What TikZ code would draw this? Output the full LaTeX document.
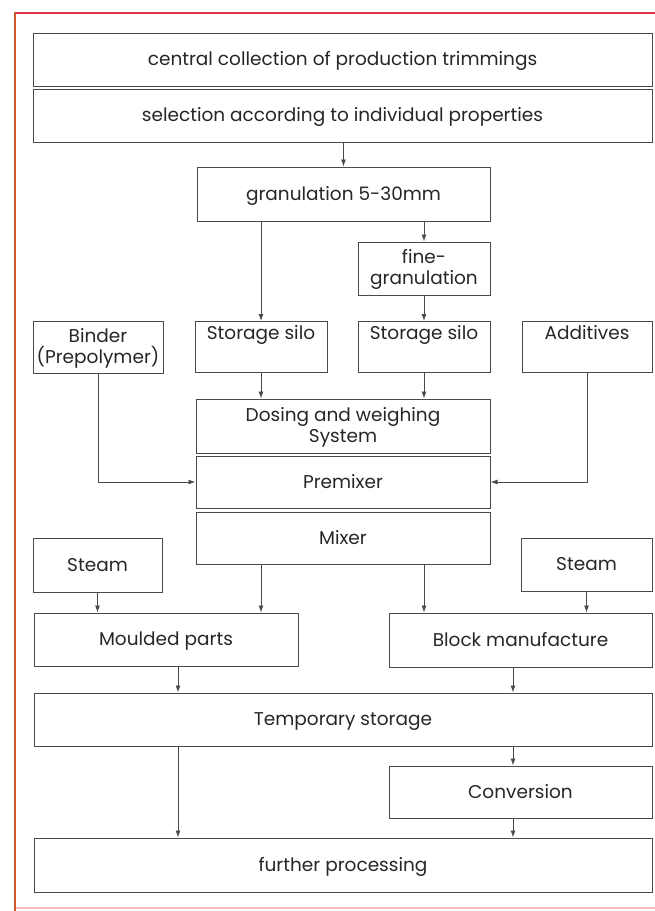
\documentclass[tikz,border=0pt]{standalone}
\usepackage{fontspec}
\setmainfont{Poppins}
\usepackage{xcolor}
\usetikzlibrary{arrows.meta,positioning,calc}
\definecolor{boxline}{HTML}{4A4A4A}
\definecolor{frametop}{HTML}{E2334C}
\definecolor{frameleft}{HTML}{D2572E}
\definecolor{framebot}{HTML}{F5BCC6}
\tikzset{
  box/.style={rectangle, draw=boxline, line width=1pt, align=center, text=black!85,
              font=\fontsize{18.5}{21}\selectfont, inner sep=2pt, text height=13pt, text depth=1pt},
  twoline/.style={box, text height=34pt, text depth=1.5pt},
  topbox/.style={box, text height=14pt, text depth=29pt, inner ysep=4pt},
  arr/.style={-{Latex[length=7pt,width=5pt]}, line width=0.9pt, draw=boxline}
}

\begin{document}
\begin{tikzpicture}[x=1pt, y=-1pt]
  \useasboundingbox (0,0) rectangle (655,911);
  % page frame
  \draw[frametop, line width=2.5pt] (15,13) -- (655,13);
  \draw[frameleft, line width=2.5pt] (15,12) -- (15,911);
  \draw[framebot, line width=2pt] (16,908) -- (655,908);

  % collection and granulation
  \node[box, minimum width=619, minimum height=53] (coll) at (342.5,59.5) {central collection of production trimmings};
  \node[box, minimum width=619, minimum height=53, below=2pt of coll] (sel) {selection according to individual properties};
  \node[box, minimum width=293, minimum height=54] (gran) at (343.5,194) {granulation 5-30mm};
  \node[twoline, minimum width=132, minimum height=53] (fine) at (424,268.5) {fine-\\granulation};

  % storage row
  \node[twoline, minimum width=130, minimum height=52] (binder) at (98,347) {Binder\\(Prepolymer)};
  \node[topbox, minimum width=132] (silo1) at (261,347) {Storage silo};
  \node[topbox, minimum width=132] (silo2) at (424,347) {Storage silo};
  \node[topbox, minimum width=130] (addit) at (587,347) {Additives};

  % mixing
  \node[twoline, minimum width=294, minimum height=54] (dosing) at (343,426) {Dosing and weighing\\System};
  \node[box, minimum width=294, minimum height=52, below=2pt of dosing] (premix) {Premixer};
  \node[box, minimum width=294, minimum height=52, below=3pt of premix] (mixer) {Mixer};

  % forming
  \node[box, minimum width=129, minimum height=54] (steamL) at (97.5,565) {Steam};
  \node[box, minimum width=131, minimum height=53] (steamR) at (586.5,564.5) {Steam};
  \node[box, minimum width=264, minimum height=53] (mould) at (166,639.5) {Moulded parts};
  \node[box, minimum width=263, minimum height=54] (block) at (520.5,640) {Block manufacture};

  % storage and processing
  \node[box, minimum width=618, minimum height=53] (temp) at (343,719.5) {Temporary storage};
  \node[box, minimum width=263, minimum height=52] (conv) at (520.5,792) {Conversion};
  \node[box, minimum width=618, minimum height=54] (further) at (343,865) {further processing};
  \coordinate (colL) at (178,0);
  \coordinate (colR) at (513,0);

  \draw[arr] (sel.south -| gran.north) -- (gran.north);
  \draw[arr] (gran.south -| silo1.north) -- (silo1.north); \draw[arr] (gran.south -| fine.north) -- (fine.north);
  \draw[arr] (fine.south) -- (silo2.north);
  \draw[arr] (silo1.south) -- (silo1.south |- dosing.north); \draw[arr] (silo2.south) -- (silo2.south |- dosing.north);
  \draw[arr] (binder.south) |- (premix.west); \draw[arr] (addit.south) |- (premix.east);
  \draw[arr] (mixer.south -| silo1.south) -- (silo1.south |- mould.north);
  \draw[arr] (mixer.south -| silo2.south) -- (silo2.south |- block.north);
  \draw[arr] (steamL.south) -- (steamL.south |- mould.north); \draw[arr] (steamR.south) -- (steamR.south |- block.north);
  \draw[arr] (mould.south -| colL) -- (temp.north -| colL); \draw[arr] (block.south -| colR) -- (temp.north -| colR);
  \draw[arr] (temp.south -| colR) -- (conv.north -| colR); \draw[arr] (conv.south -| colR) -- (further.north -| colR);
  \draw[arr] (temp.south -| colL) -- (further.north -| colL);
\end{tikzpicture}
\end{document}
